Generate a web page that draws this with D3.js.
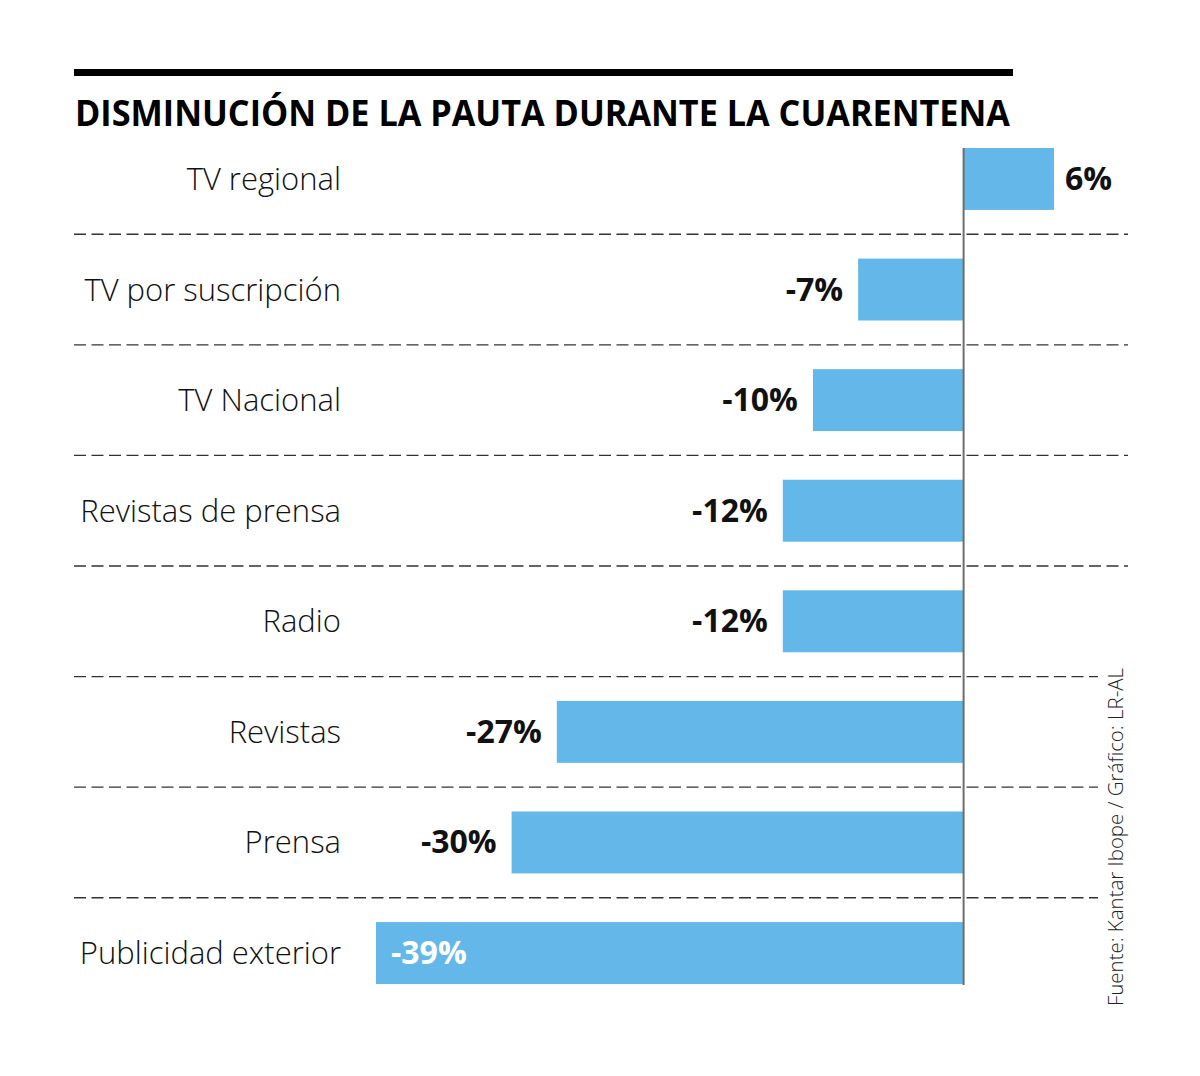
<!DOCTYPE html>
<html>
<head>
<meta charset="utf-8">
<script src="https://cdn.jsdelivr.net/npm/d3@7"></script>
<style>
  body { margin: 0; background: #fff; }
  svg { display: block; }
</style>
</head>
<body>
<script>
// data
var categories = [ "TV regional", "TV por suscripción", "TV Nacional", "Revistas de prensa",
                   "Radio", "Revistas", "Prensa", "Publicidad exterior" ];
var values = [ 6, -7, -10, -12, -12, -27, -30, -39 ];
var title = "DISMINUCIÓN DE LA PAUTA DURANTE LA CUARENTENA";
var source = "Fuente: Kantar Ibope / Gráfico: LR-AL";

var width = 1200, height = 1076;
var barColor = "#63b8e9";

var svg = d3.select( "body" ).append( "svg" )
  .attr( "width", width ).attr( "height", height );

// header rule and title
svg.append( "rect" ).attr( "x", 74 ).attr( "y", 69 ).attr( "width", 939 ).attr( "height", 7 )
  .attr( "fill", "#000" );
svg.append( "text" ).attr( "x", 75 ).attr( "y", 126 )
  .attr( "font-family", "Open Sans" ).attr( "font-weight", 700 ).attr( "font-size", 35 )
  .attr( "textLength", 935 ).attr( "lengthAdjust", "spacingAndGlyphs" )
  .attr( "fill", "#000" ).text( title );

var x = d3.scaleLinear().domain( [ -39, 6 ] ).range( [ 376, 1054 ] );
var y = d3.scaleBand().domain( categories ).range( [ 148, 984 ] ).paddingInner( 0.44 ).paddingOuter( 0 );
var row = y.step();

// dashed separators
var seps = categories.slice( 1 );
var sepY = function( d ) { return y( d ) - ( row - y.bandwidth() ) / 2; };
svg.append( "g" ).selectAll( "line" ).data( seps ).join( "line" )
  .attr( "x1", 74 )
  .attr( "x2", function( d ) { return sepY( d ) > 660 ? 1098 : 1128; } )
  .attr( "y1", sepY )
  .attr( "y2", sepY )
  .attr( "stroke", "#333" ).attr( "stroke-width", 1.3 ).attr( "stroke-dasharray", "12,5.5" );

// bars
svg.append( "g" ).selectAll( "rect" ).data( values ).join( "rect" )
  .attr( "x", function( d ) { return x( Math.min( 0, d ) ); } )
  .attr( "y", function( d, i ) { return y( categories[ i ] ); } )
  .attr( "width", function( d ) { return Math.abs( x( d ) - x( 0 ) ); } )
  .attr( "height", y.bandwidth() )
  .attr( "fill", barColor );

// zero line
svg.append( "line" ).attr( "x1", x( 0 ) ).attr( "x2", x( 0 ) )
  .attr( "y1", y( categories[ 0 ] ) ).attr( "y2", y( categories[ categories.length - 1 ] ) + y.bandwidth() + 1 )
  .attr( "stroke", "#6e6e6e" ).attr( "stroke-width", 2 );

// category labels
svg.append( "g" ).selectAll( "text" ).data( categories ).join( "text" )
  .attr( "x", 341 )
  .attr( "y", function( d ) { return y( d ) + y.bandwidth() / 2 + 11; } )
  .attr( "text-anchor", "end" )
  .attr( "font-family", "Open Sans" ).attr( "font-weight", 300 ).attr( "font-size", 31 )
  .attr( "fill", "#111" ).text( function( d ) { return d; } );

// value labels
svg.append( "g" ).selectAll( "text" ).data( values ).join( "text" )
  .attr( "x", function( d, i ) {
    if( d >= 0 ) return x( d ) + 11;
    if( i === values.length - 1 ) return x( d ) + 15;
    return x( d ) - 15;
  } )
  .attr( "y", function( d, i ) { return y( categories[ i ] ) + y.bandwidth() / 2 + 11; } )
  .attr( "text-anchor", function( d, i ) { return d >= 0 || i === values.length - 1 ? "start" : "end"; } )
  .attr( "font-family", "Open Sans" ).attr( "font-weight", 700 ).attr( "font-size", 32 )
  .attr( "fill", function( d, i ) { return i === values.length - 1 ? "#fff" : "#111"; } )
  .text( function( d ) { return d + "%"; } );

// source, rotated
svg.append( "text" )
  .attr( "transform", "translate(1123,1006) rotate(-90)" )
  .attr( "font-family", "Open Sans" ).attr( "font-weight", 300 ).attr( "font-size", 20 )
  .attr( "textLength", 338 ).attr( "lengthAdjust", "spacingAndGlyphs" )
  .attr( "fill", "#222" ).text( source );
</script>
</body>
</html>
